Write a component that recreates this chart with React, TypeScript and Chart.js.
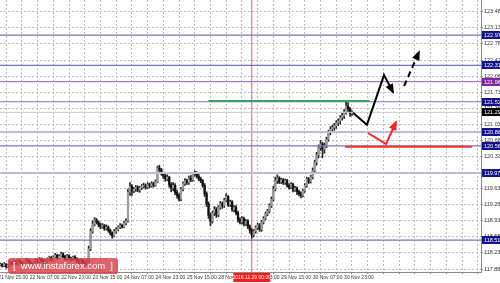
import React, { useEffect, useRef } from 'react';
import { Chart, registerables } from 'chart.js';

Chart.register(...registerables);

// ---- candle data (H1), first candle index ----
const firstHour = -7;
const opens = [
  117.96, 117.98, 117.95, 117.99, 117.93, 117.97, 118.02, 117.99,
  118.04, 118.00, 118.06, 118.02, 117.98, 118.03, 118.08, 118.05,
  118.01, 117.97, 118.02, 118.07, 118.04, 118.10, 118.06, 118.02,
  118.05, 118.09, 118.13, 118.08, 118.14, 118.18, 118.12, 118.16,
  118.21, 118.15, 118.10, 118.17, 118.12, 118.08, 118.14, 118.11,
  118.06, 118.02, 118.07, 118.03, 117.99, 118.05, 118.32, 118.70,
  118.86, 118.95, 118.90, 118.84, 118.80, 118.83, 118.76, 118.79,
  118.72, 118.66, 118.60, 118.70, 118.74, 118.79, 118.83, 118.80,
  118.88, 118.92, 119.55, 119.68, 119.58, 119.62, 119.66, 119.60,
  119.65, 119.68, 119.70, 119.66, 119.72, 119.69, 119.74, 119.70,
  119.78, 120.08, 120.04, 119.96, 119.90, 119.84, 119.88, 119.72,
  119.64, 119.70, 119.55, 119.48, 119.40, 119.62, 119.74, 119.80,
  119.76, 119.86, 119.82, 119.95, 119.98, 119.90, 119.84, 119.80,
  119.70, 119.52, 119.30, 119.05, 118.92, 119.10, 119.18, 119.06,
  119.22, 119.30, 119.26, 119.38, 119.46, 119.28, 119.34, 119.18,
  119.22, 119.10, 118.95, 118.90, 118.98, 118.86, 118.92, 118.80,
  118.72, 118.62, 118.70, 118.78, 118.84, 118.74, 118.90, 118.98,
  119.08, 119.14, 119.26, 119.40, 119.62, 119.80, 119.86, 119.78,
  119.82, 119.76, 119.80, 119.70, 119.66, 119.72, 119.60, 119.64,
  119.56, 119.52, 119.48, 119.58, 119.70, 119.84, 119.78, 119.88,
  120.02, 120.20, 120.36, 120.52, 120.60, 120.48, 120.56, 120.70,
  120.86, 120.92, 120.96, 121.00, 121.06, 121.10, 121.18, 121.22,
  121.30, 121.42, 121.36, 121.26,
];
const highs = [
  118.01, 118.00, 118.02, 118.00, 117.99, 118.05, 118.04, 118.07,
  118.06, 118.09, 118.08, 118.04, 118.05, 118.11, 118.10, 118.07,
  118.03, 118.04, 118.10, 118.09, 118.13, 118.12, 118.08, 118.08,
  118.12, 118.16, 118.15, 118.17, 118.22, 118.20, 118.19, 118.25,
  118.24, 118.18, 118.20, 118.19, 118.14, 118.16, 118.17, 118.13,
  118.09, 118.10, 118.09, 118.05, 118.08, 118.38, 118.76, 118.93,
  119.00, 118.98, 118.93, 118.88, 118.87, 118.85, 118.84, 118.82,
  118.75, 118.69, 118.74, 118.78, 118.82, 118.87, 118.86, 118.92,
  118.97, 119.62, 119.76, 119.72, 119.66, 119.70, 119.69, 119.68,
  119.72, 119.75, 119.73, 119.76, 119.75, 119.78, 119.77, 119.82,
  120.12, 120.14, 120.07, 119.99, 119.94, 119.93, 119.90, 119.76,
  119.76, 119.74, 119.60, 119.52, 119.66, 119.78, 119.85, 119.84,
  119.90, 119.92, 119.98, 120.02, 120.00, 119.94, 119.88, 119.83,
  119.74, 119.56, 119.34, 119.10, 119.14, 119.24, 119.22, 119.26,
  119.35, 119.34, 119.42, 119.52, 119.48, 119.38, 119.37, 119.26,
  119.26, 119.14, 119.00, 119.02, 119.01, 118.96, 118.95, 118.84,
  118.76, 118.74, 118.82, 118.88, 118.87, 118.94, 119.02, 119.12,
  119.18, 119.30, 119.45, 119.68, 119.88, 119.93, 119.89, 119.86,
  119.85, 119.84, 119.83, 119.74, 119.76, 119.75, 119.68, 119.67,
  119.60, 119.56, 119.62, 119.74, 119.88, 119.87, 119.92, 120.08,
  120.25, 120.42, 120.58, 120.68, 120.64, 120.62, 120.75, 120.90,
  120.98, 121.01, 121.05, 121.11, 121.15, 121.22, 121.27, 121.35,
  121.55, 121.50, 121.40, 121.33,
];
const lows = [
  117.94, 117.92, 117.93, 117.90, 117.91, 117.95, 117.97, 117.97,
  117.98, 117.98, 118.00, 117.95, 117.96, 118.01, 118.03, 117.99,
  117.94, 117.95, 118.00, 118.01, 118.02, 118.04, 117.99, 118.00,
  118.03, 118.07, 118.05, 118.06, 118.12, 118.10, 118.10, 118.14,
  118.12, 118.07, 118.08, 118.09, 118.05, 118.06, 118.08, 118.03,
  117.99, 118.00, 118.00, 117.95, 117.97, 118.03, 118.28, 118.66,
  118.82, 118.86, 118.80, 118.76, 118.77, 118.72, 118.73, 118.68,
  118.62, 118.55, 118.58, 118.66, 118.71, 118.76, 118.77, 118.78,
  118.84, 118.90, 119.48, 119.48, 119.54, 119.57, 119.56, 119.55,
  119.61, 119.64, 119.62, 119.63, 119.65, 119.66, 119.66, 119.68,
  119.76, 119.99, 119.92, 119.85, 119.79, 119.80, 119.66, 119.56,
  119.58, 119.50, 119.42, 119.36, 119.37, 119.58, 119.70, 119.72,
  119.72, 119.78, 119.79, 119.90, 119.86, 119.80, 119.76, 119.66,
  119.46, 119.24, 118.98, 118.82, 118.88, 119.04, 119.00, 119.02,
  119.18, 119.20, 119.22, 119.34, 119.24, 119.24, 119.14, 119.12,
  119.06, 118.90, 118.86, 118.86, 118.82, 118.83, 118.76, 118.66,
  118.55, 118.58, 118.66, 118.74, 118.70, 118.70, 118.86, 118.95,
  119.04, 119.10, 119.22, 119.36, 119.58, 119.74, 119.74, 119.74,
  119.72, 119.72, 119.66, 119.62, 119.63, 119.56, 119.57, 119.50,
  119.47, 119.43, 119.45, 119.55, 119.66, 119.74, 119.75, 119.84,
  119.98, 120.14, 120.30, 120.46, 120.30, 120.40, 120.52, 120.66,
  120.80, 120.86, 120.90, 120.94, 121.00, 121.04, 121.12, 121.16,
  121.25, 121.30, 121.20, 121.22,
];
const closes = [
  117.98, 117.95, 117.99, 117.93, 117.97, 118.02, 117.99, 118.04,
  118.00, 118.06, 118.02, 117.98, 118.03, 118.08, 118.05, 118.01,
  117.97, 118.02, 118.07, 118.04, 118.10, 118.06, 118.02, 118.05,
  118.09, 118.13, 118.08, 118.14, 118.18, 118.12, 118.16, 118.21,
  118.15, 118.10, 118.17, 118.12, 118.08, 118.14, 118.11, 118.06,
  118.02, 118.07, 118.03, 117.99, 118.05, 118.32, 118.70, 118.86,
  118.95, 118.90, 118.84, 118.80, 118.83, 118.76, 118.79, 118.72,
  118.66, 118.60, 118.70, 118.74, 118.79, 118.83, 118.80, 118.88,
  118.92, 119.55, 119.68, 119.58, 119.62, 119.66, 119.60, 119.65,
  119.68, 119.70, 119.66, 119.72, 119.69, 119.74, 119.70, 119.78,
  120.08, 120.04, 119.96, 119.90, 119.84, 119.88, 119.72, 119.64,
  119.70, 119.55, 119.48, 119.40, 119.62, 119.74, 119.80, 119.76,
  119.86, 119.82, 119.95, 119.98, 119.90, 119.84, 119.80, 119.70,
  119.52, 119.30, 119.05, 118.92, 119.10, 119.18, 119.06, 119.22,
  119.30, 119.26, 119.38, 119.46, 119.28, 119.34, 119.18, 119.22,
  119.10, 118.95, 118.90, 118.98, 118.86, 118.92, 118.80, 118.72,
  118.62, 118.70, 118.78, 118.84, 118.74, 118.90, 118.98, 119.08,
  119.14, 119.26, 119.40, 119.62, 119.80, 119.86, 119.78, 119.82,
  119.76, 119.80, 119.70, 119.66, 119.72, 119.60, 119.64, 119.56,
  119.52, 119.48, 119.58, 119.70, 119.84, 119.78, 119.88, 120.02,
  120.20, 120.36, 120.52, 120.60, 120.48, 120.56, 120.70, 120.86,
  120.92, 120.96, 121.00, 121.06, 121.10, 121.18, 121.22, 121.30,
  121.42, 121.36, 121.26, 121.29,
];

// ---- axes ----
const priceTicks = [123.48, 123.13, 122.78, 122.42, 122.06, 121.73, 121.38, 121.03, 120.68, 120.33, 119.98, 119.63, 119.28, 118.93, 118.58, 118.23, 117.88];
const gridHours = [0, 8, 16, 24, 32, 40, 48, 56, 64, 72, 80, 88, 96, 104, 112, 120, 128, 136, 144, 152, 160, 168, 176, 184, 192, 200, 208, 216, 224, 232];
const timeTicks = [-8, 8, 24, 40, 56, 72, 88, 104, 120, 136, 152, 168];
const timeLabels = ['21 Nov 15:00', '22 Nov 07:00', '22 Nov 23:00', '23 Nov 15:00', '24 Nov 07:00', '24 Nov 23:00', '25 Nov 15:00', '28 Nov 07:00', '28 Nov 23:00', '29 Nov 15:00', '30 Nov 07:00', '30 Nov 23:00'];
const xMin = -7.12;
const xMax = 237.66;
const yMin = 117.815;
const yMax = 123.735;

// ---- horizontal levels ----
const levels = [122.97, 122.31, 121.96, 121.52, 120.86, 120.56, 119.97, 118.51];
const levelColors = ['#7474c4', '#7474c4', '#a57bd2', '#7474c4', '#b9b9e3', '#7474c4', '#b9b9e3', '#7474c4'];
const levelWidths = [1.2, 1.2, 1.2, 1.2, 2, 1.2, 2, 1.2];
const levelBoxColors = ['#12128a', '#12128a', '#7a2a9e', '#12128a', '#12128a', '#12128a', '#12128a', '#12128a'];
const bidPrice = 121.29;

const vLineHour = 121;
const vLineLabel = '2016.11.29 00:00';

const greenHours = [99, 181];
const greenPrice = 121.535;
const redHours = [168.5, 233];
const redPrice = 120.54;

const blackArrowHours = [172.5, 179.6, 188.3, 192.9];
const blackArrowPrices = [121.28, 121.02, 122.1, 121.73];
const dashArrowHours = [198.5, 206.1];
const dashArrowPrices = [121.86, 122.6];
const redArrowHours = [180.2, 189.3, 194.4];
const redArrowPrices = [120.84, 120.6, 121.08];

const FONT = 'Liberation Sans';

function lineData(hs: number[], ps: number[]) {
  return hs.map((h, i) => ({ x: h, y: ps[i] }));
}

export default function App() {
  const ref = useRef<HTMLCanvasElement | null>(null);

  useEffect(() => {
    const canvas = ref.current;
    if (!canvas) return;

    const wick = opens.map((_, k) => ({ x: firstHour + k, y: [lows[k], highs[k]] }));
    const body = opens.map((o, k) => ({ x: firstHour + k, y: [o, closes[k]] }));
    const bodyColors = opens.map((o, k) => (closes[k] >= o ? '#9c9c9c' : '#111111'));

    const datasets: any[] = [];
    levels.forEach((lv, i) => {
      datasets.push({
        type: 'line', data: lineData([xMin, xMax], [lv, lv]), borderColor: levelColors[i],
        borderWidth: levelWidths[i], pointRadius: 0, order: 2, arrow: false,
      });
    });
    datasets.push({ type: 'line', data: lineData([xMin, xMax], [bidPrice, bidPrice]), borderColor: '#c9c9c9', borderWidth: 1, pointRadius: 0, order: 3 });
    datasets.push({ type: 'line', data: [{ x: vLineHour, y: yMin }, { x: vLineHour, y: yMax }], borderColor: '#ff5050', borderWidth: 1, pointRadius: 0, order: 6 });
    datasets.push({ type: 'line', data: lineData(greenHours, [greenPrice, greenPrice]), borderColor: '#3d9b63', borderWidth: 2, pointRadius: 0, order: 1 });
    datasets.push({ type: 'line', data: lineData(redHours, [redPrice, redPrice]), borderColor: '#ff3030', borderWidth: 2, pointRadius: 0, order: 1 });
    datasets.push({ type: 'line', data: lineData(blackArrowHours, blackArrowPrices), borderColor: '#000', borderWidth: 2, pointRadius: 0, order: 0, arrow: true });
    datasets.push({ type: 'line', data: lineData(dashArrowHours, dashArrowPrices), borderColor: '#000', borderWidth: 2, borderDash: [6, 4], pointRadius: 0, order: 0, arrow: true });
    datasets.push({ type: 'line', data: lineData(redArrowHours, redArrowPrices), borderColor: '#ff2020', borderWidth: 2, pointRadius: 0, order: 0, arrow: true });
    datasets.push({ type: 'bar', data: wick, backgroundColor: '#222', barThickness: 1, grouped: false, order: 5 });
    datasets.push({ type: 'bar', data: body, backgroundColor: bodyColors, barThickness: 1.6, minBarLength: 1, grouped: false, order: 4 });

    const overlay = {
      id: 'overlay',
      afterDatasetsDraw(chart: any) {
        const ctx = chart.ctx;
        chart.data.datasets.forEach((ds: any, i: number) => {
          if (!ds.arrow) return;
          const pts = chart.getDatasetMeta(i).data;
          const a = pts[pts.length - 2];
          const b = pts[pts.length - 1];
          const ang = Math.atan2(b.y - a.y, b.x - a.x);
          const len = 8;
          const half = 4;
          ctx.save();
          ctx.fillStyle = ds.borderColor;
          ctx.beginPath();
          ctx.moveTo(b.x + Math.cos(ang) * 2, b.y + Math.sin(ang) * 2);
          ctx.lineTo(b.x - Math.cos(ang) * len + Math.sin(ang) * half, b.y - Math.sin(ang) * len - Math.cos(ang) * half);
          ctx.lineTo(b.x - Math.cos(ang) * len - Math.sin(ang) * half, b.y - Math.sin(ang) * len + Math.cos(ang) * half);
          ctx.closePath();
          ctx.fill();
          ctx.restore();
        });
      },
      afterDraw(chart: any) {
        const ctx = chart.ctx;
        const ys = chart.scales.y;
        const xs = chart.scales.x;
        const area = chart.chartArea;
        ctx.save();
        ctx.font = `5.5px "${FONT}"`;
        ctx.textBaseline = 'middle';
        ctx.textAlign = 'left';
        const box = (price: number, color: string) => {
          const py = Math.round(ys.getPixelForValue(price));
          ctx.fillStyle = color;
          ctx.fillRect(area.right + 1, py - 4, 500 - area.right - 1, 8);
          ctx.fillStyle = '#fff';
          ctx.fillText(price.toFixed(2), area.right + 3, py + 0.5);
        };
        levels.forEach((lv, i) => box(lv, levelBoxColors[i]));
        box(bidPrice, '#000');
        // vertical line time label
        const vx = xs.getPixelForValue(vLineHour);
        ctx.font = `5px "${FONT}"`;
        ctx.textAlign = 'center';
        const w = 37;
        ctx.fillStyle = '#ff1a1a';
        ctx.fillRect(vx - w / 2, area.bottom + 1, w, 9);
        ctx.fillStyle = '#fff';
        ctx.fillText(vLineLabel, vx, area.bottom + 5.5);
        // watermark
        const wx = 8, wy = 258, ww = 110, wh = 16, r = 3;
        ctx.fillStyle = 'rgba(214, 64, 72, 0.82)';
        ctx.beginPath();
        ctx.moveTo(wx + r, wy);
        ctx.lineTo(wx + ww - r, wy);
        ctx.quadraticCurveTo(wx + ww, wy, wx + ww, wy + r);
        ctx.lineTo(wx + ww, wy + wh - r);
        ctx.quadraticCurveTo(wx + ww, wy + wh, wx + ww - r, wy + wh);
        ctx.lineTo(wx + r, wy + wh);
        ctx.quadraticCurveTo(wx, wy + wh, wx, wy + wh - r);
        ctx.lineTo(wx, wy + r);
        ctx.quadraticCurveTo(wx, wy, wx + r, wy);
        ctx.fill();
        ctx.fillStyle = '#fff';
        ctx.font = `9.5px "${FONT}"`;
        ctx.textAlign = 'left';
        ctx.fillText('[', wx + 5, wy + wh / 2 + 0.5);
        ctx.textAlign = 'center';
        ctx.fillText('www.instaforex.com', wx + ww / 2, wy + wh / 2 + 0.5);
        ctx.textAlign = 'right';
        ctx.fillText(']', wx + ww - 5, wy + wh / 2 + 0.5);
        ctx.restore();
      },
    };

    const chart = new Chart(canvas, {
      type: 'bar',
      data: { datasets },
      options: {
        animation: false,
        responsive: false,
        devicePixelRatio: 1,
        maintainAspectRatio: false,
        layout: { padding: 0 },
        plugins: { legend: { display: false }, tooltip: { enabled: false } },
        scales: {
          x: {
            type: 'linear',
            min: xMin,
            max: xMax,
            offset: false,
            afterBuildTicks: (s: any) => { s.ticks = [-8, ...gridHours].map((v) => ({ value: v })); },
            afterFit: (s: any) => { s.height = 11; s.paddingLeft = 0; s.paddingRight = 0; },
            ticks: {
              autoSkip: false, maxRotation: 0, minRotation: 0, align: 'start', padding: 1,
              font: { family: FONT, size: 5 }, color: '#333',
              callback: (v: any) => { const k = timeTicks.indexOf(Number(v)); return k >= 0 ? timeLabels[k] : ''; },
            },
            grid: { color: '#bcbcbc', lineWidth: 1, drawTicks: true, tickLength: 2, tickColor: '#888' },
            border: { display: true, color: '#8a8a8a', dash: [2, 2] },
          },
          y: {
            type: 'linear',
            position: 'right',
            min: yMin,
            max: yMax,
            afterBuildTicks: (s: any) => { s.ticks = priceTicks.map((v) => ({ value: v })); },
            afterFit: (s: any) => { s.width = 19; s.paddingTop = 0; s.paddingBottom = 0; },
            ticks: {
              padding: 1, font: { family: FONT, size: 5.5 }, color: '#333',
              callback: (v: any) => Number(v).toFixed(2),
            },
            grid: { color: '#bcbcbc', lineWidth: 1, drawTicks: true, tickLength: 2, tickColor: '#888' },
            border: { display: true, color: '#8a8a8a', dash: [2, 2] },
          },
        },
      } as any,
      plugins: [overlay],
    });
    return () => chart.destroy();
  }, []);

  return (
    <canvas
      ref={ref}
      width={500}
      height={283}
      style={{ position: 'fixed', left: 0, top: 0, width: 500, height: 283, display: 'block', background: '#fff' }}
    />
  );
}
